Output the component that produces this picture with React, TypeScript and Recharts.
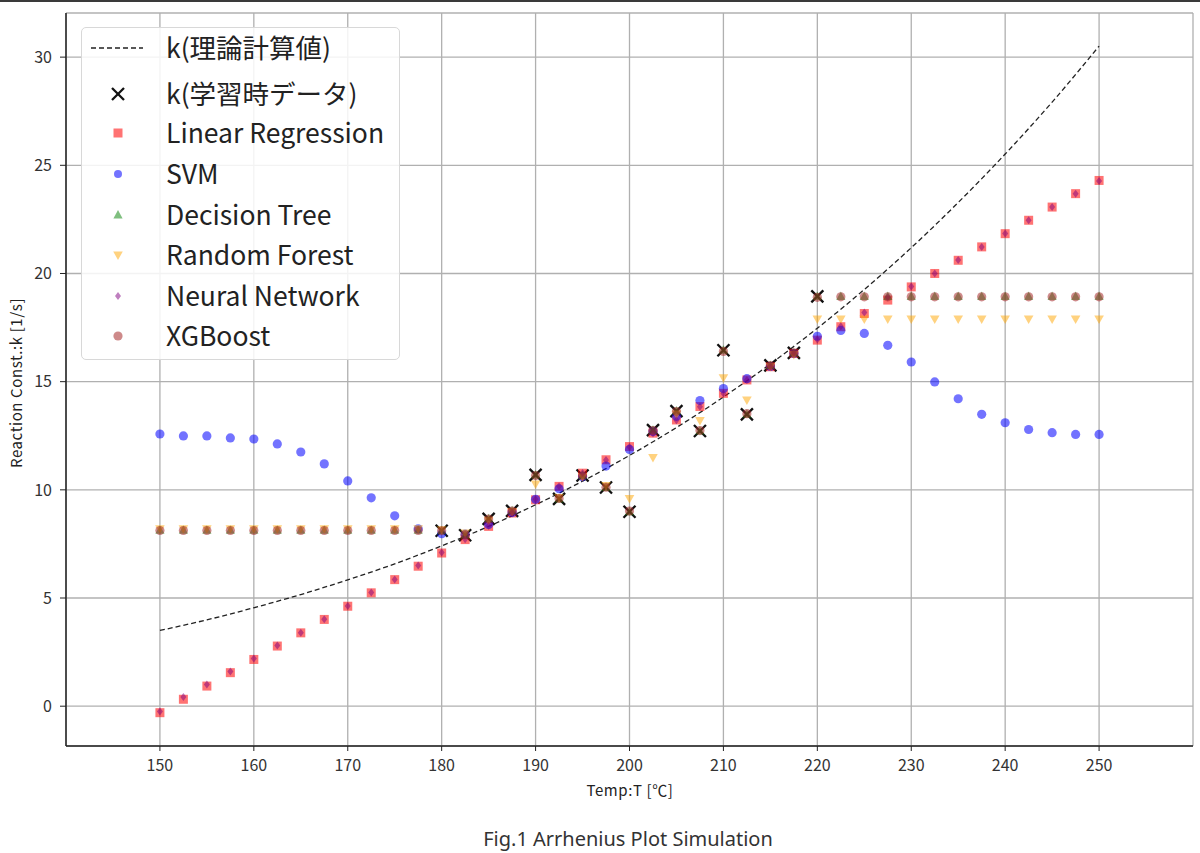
import React from 'react';
import { ComposedChart, Scatter, Line, XAxis, YAxis, CartesianGrid } from 'recharts';

// temperatures of the model predictions [°C]
const temps = [
  150, 152.5, 155, 157.5, 160, 162.5, 165, 167.5, 170, 172.5, 175, 177.5, 180, 182.5, 185, 187.5, 190, 192.5, 195, 197.5,
  200, 202.5, 205, 207.5, 210, 212.5, 215, 217.5, 220, 222.5, 225, 227.5, 230, 232.5, 235, 237.5, 240, 242.5, 245, 247.5, 250,
];

// theoretical curve, read every 5 °C
const theoryT = [150, 155, 160, 165, 170, 175, 180, 185, 190, 195, 200, 205, 210, 215, 220, 225, 230, 235, 240, 245, 250];
const theoryK = [3.5, 3.99, 4.55, 5.16, 5.84, 6.58, 7.41, 8.31, 9.31, 10.4, 11.59, 12.88, 14.29, 15.82, 17.47, 19.26, 21.19, 23.28, 25.52, 27.92, 30.51];

// training data
const trainT = [180, 182.5, 185, 187.5, 190, 192.5, 195, 197.5, 200, 202.5, 205, 207.5, 210, 212.5, 215, 217.5, 220];
const trainK = [8.11, 7.9, 8.66, 9.03, 10.69, 9.58, 10.66, 10.11, 8.99, 12.76, 13.64, 12.72, 16.45, 13.49, 15.75, 16.33, 18.94];

const lrK = [
  -0.3, 0.32, 0.93, 1.55, 2.16, 2.78, 3.39, 4.01, 4.62, 5.24, 5.85, 6.47, 7.08, 7.7, 8.31, 8.93, 9.54, 10.16, 10.77, 11.39,
  12.0, 12.62, 13.23, 13.85, 14.46, 15.08, 15.69, 16.31, 16.92, 17.54, 18.15, 18.77, 19.38, 20.0, 20.61, 21.23, 21.84, 22.46, 23.07, 23.69, 24.3,
];
const svmK = [
  12.58, 12.49, 12.49, 12.4, 12.35, 12.12, 11.75, 11.2, 10.41, 9.63, 8.8, 8.2, 7.97, 7.95, 8.4, 8.95, 9.56, 10.05, 10.6, 11.1,
  11.87, 12.7, 13.4, 14.13, 14.68, 15.14, 15.7, 16.3, 17.1, 17.37, 17.23, 16.68, 15.91, 14.99, 14.21, 13.49, 13.1, 12.79, 12.64, 12.56, 12.56,
];
const dtK = [
  8.13, 8.13, 8.13, 8.13, 8.13, 8.13, 8.13, 8.13, 8.13, 8.13, 8.13, 8.13, 8.11, 7.9, 8.66, 9.03, 10.69, 9.58, 10.66, 10.11,
  8.99, 12.76, 13.64, 12.72, 16.45, 13.49, 15.75, 16.33, 18.94, 18.94, 18.94, 18.94, 18.94, 18.94, 18.94, 18.94, 18.94, 18.94, 18.94, 18.94, 18.94,
];
const rfK = [
  8.2, 8.2, 8.2, 8.2, 8.2, 8.2, 8.2, 8.2, 8.2, 8.2, 8.2, 8.2, 8.15, 8.0, 8.6, 9.0, 10.27, 9.65, 10.6, 10.2,
  9.6, 11.5, 13.5, 13.2, 15.18, 14.15, 15.7, 16.25, 17.9, 17.9, 17.9, 17.9, 17.9, 17.9, 17.9, 17.9, 17.9, 17.9, 17.9, 17.9, 17.9,
];
const nnK = [
  -0.25, 0.43, 1.0, 1.6, 2.2, 2.8, 3.4, 4.02, 4.63, 5.25, 5.86, 6.5, 7.1, 7.72, 8.33, 8.95, 9.56, 10.17, 10.78, 11.38,
  11.98, 12.6, 13.22, 13.84, 14.45, 15.08, 15.7, 16.32, 16.95, 17.56, 18.2, 18.9, 19.4, 20.0, 20.62, 21.23, 21.85, 22.46, 23.07, 23.68, 24.28,
];
const xgbK = [
  8.12, 8.12, 8.12, 8.12, 8.12, 8.12, 8.12, 8.12, 8.12, 8.12, 8.12, 8.12, 8.11, 7.92, 8.65, 9.02, 10.66, 9.6, 10.64, 10.12,
  9.02, 12.74, 13.62, 12.74, 16.4, 13.52, 15.74, 16.32, 18.9, 18.92, 18.92, 18.92, 18.92, 18.92, 18.92, 18.92, 18.92, 18.92, 18.92, 18.92, 18.92,
];

const xTicks = [150, 160, 170, 180, 190, 200, 210, 220, 230, 240, 250];
const yTicks = [0, 5, 10, 15, 20, 25, 30];

const pts = (xs: number[], ys: number[]) => xs.map((x, i) => ({ x, y: ys[i] }));

const FONT = '"Noto Sans CJK JP", "Noto Sans", sans-serif';
const GRID = '#b0b0b0';

const COLORS = {
  lr: '#ff0000',
  svm: '#0000ff',
  dt: '#008000',
  rf: '#ffa500',
  nn: '#800080',
  xgb: '#a52a2a',
};

// marker drawers, used in the plot (cx, cy from scatter) and the legend
const mSquare = (cx: number, cy: number, c: string) => (
  <rect x={cx - 4.5} y={cy - 4.5} width={9} height={9} fill={c} fillOpacity={0.55} />
);
const mCircle = (cx: number, cy: number, c: string) => <circle cx={cx} cy={cy} r={4.6} fill={c} fillOpacity={0.55} />;
const mTriUp = (cx: number, cy: number, c: string) => (
  <polygon points={`${cx},${cy - 5} ${cx - 4.6},${cy + 3.5} ${cx + 4.6},${cy + 3.5}`} fill={c} fillOpacity={0.5} />
);
const mTriDown = (cx: number, cy: number, c: string) => (
  <polygon points={`${cx},${cy + 5} ${cx - 4.8},${cy - 3.5} ${cx + 4.8},${cy - 3.5}`} fill={c} fillOpacity={0.5} />
);
const mDiamond = (cx: number, cy: number, c: string) => (
  <polygon points={`${cx},${cy - 4} ${cx + 3},${cy} ${cx},${cy + 4} ${cx - 3},${cy}`} fill={c} fillOpacity={0.5} />
);
const mCross = (cx: number, cy: number) => (
  <g stroke="#111" strokeWidth={2.3}>
    <line x1={cx - 6} y1={cy - 6} x2={cx + 6} y2={cy + 6} />
    <line x1={cx - 6} y1={cy + 6} x2={cx + 6} y2={cy - 6} />
  </g>
);

const shapeOf = (draw: (cx: number, cy: number, c: string) => React.ReactElement, c: string) => (p: any) =>
  p.cx == null ? <g /> : draw(p.cx, p.cy, c);

const legendItems = [
  { label: 'k(理論計算値)', draw: null as any, c: '' },
  { label: 'k(学習時データ)', draw: (cx: number, cy: number) => mCross(cx, cy), c: '' },
  { label: 'Linear Regression', draw: mSquare, c: COLORS.lr },
  { label: 'SVM', draw: mCircle, c: COLORS.svm },
  { label: 'Decision Tree', draw: mTriUp, c: COLORS.dt },
  { label: 'Random Forest', draw: mTriDown, c: COLORS.rf },
  { label: 'Neural Network', draw: mDiamond, c: COLORS.nn },
  { label: 'XGBoost', draw: mCircle, c: COLORS.xgb },
];
const legendRowY = [20, 66, 105, 146, 187, 227, 268, 308];

function Legend() {
  return (
    <div
      style={{
        position: 'absolute',
        left: 81,
        top: 27,
        width: 319,
        height: 333,
        border: '1px solid #d8d8d8',
        borderRadius: 5,
        background: 'rgba(255,255,255,0.85)',
        boxSizing: 'border-box',
        fontFamily: FONT,
      }}
    >
      {legendItems.map((it, i) => (
        <div key={it.label} style={{ position: 'absolute', left: 0, top: legendRowY[i] - 20, height: 40, width: '100%' }}>
          <svg width={80} height={40} style={{ position: 'absolute', left: 0, top: 0 }}>
            {it.draw ? (
              i === 3 ? (
                <circle cx={36} cy={20} r={4} fill={it.c} fillOpacity={0.55} />
              ) : (
                it.draw(36, 20, it.c)
              )
            ) : (
              <line x1={9} y1={20} x2={61} y2={20} stroke="#222" strokeWidth={1.3} strokeDasharray="5 3" />
            )}
          </svg>
          <div
            style={{
              position: 'absolute',
              left: 84,
              top: -1,
              height: 40,
              lineHeight: '40px',
              fontSize: 26.5,
              color: '#222',
              whiteSpace: 'nowrap',
            }}
          >
            {it.label}
          </div>
        </div>
      ))}
    </div>
  );
}

export default function App() {
  const tick = { fill: '#333', fontSize: 16, fontFamily: FONT };
  return (
    <div style={{ position: 'absolute', left: 0, top: 0, width: 1200, height: 853, background: '#fff', overflow: 'hidden' }}>
      <div style={{ position: 'absolute', left: 0, top: 0, width: 1200, height: 2, background: '#3a3a3a' }} />
      <ComposedChart width={1200} height={853} margin={{ top: 13, right: 7, left: 0, bottom: 0 }}>
        <CartesianGrid stroke={GRID} strokeWidth={1.3} />
        <XAxis
          dataKey="x"
          type="number"
          domain={[140, 260]}
          ticks={xTicks}
          allowDataOverflow
          height={107}
          tick={tick}
          tickSize={5}
          tickMargin={9}
          axisLine={{ stroke: '#222', strokeWidth: 1.5 }}
          tickLine={{ stroke: '#222' }}
        />
        <XAxis xAxisId="top" orientation="top" type="number" domain={[140, 260]} height={0} tick={false} tickLine={false} axisLine={{ stroke: '#222', strokeWidth: 1.5 }} />
        <YAxis
          dataKey="y"
          type="number"
          domain={[-1.84, 32.04]}
          ticks={yTicks}
          allowDataOverflow
          width={66}
          tick={tick}
          tickSize={6}
          tickMargin={8}
          axisLine={{ stroke: '#222', strokeWidth: 1.5 }}
          tickLine={{ stroke: '#222' }}
        />
        <YAxis yAxisId="right" orientation="right" type="number" domain={[0, 1]} width={0} tick={false} tickLine={false} axisLine={{ stroke: '#222', strokeWidth: 1.5 }} />

        <Line
          data={pts(theoryT, theoryK)}
          dataKey="y"
          type="monotone"
          stroke="#222"
          strokeWidth={1.3}
          strokeDasharray="5 3"
          dot={false}
          activeDot={false}
          isAnimationActive={false}
        />
        <Scatter data={pts(trainT, trainK)} dataKey="y" shape={shapeOf((cx, cy) => mCross(cx, cy), '')} isAnimationActive={false} />
        <Scatter data={pts(temps, lrK)} dataKey="y" shape={shapeOf(mSquare, COLORS.lr)} isAnimationActive={false} />
        <Scatter data={pts(temps, svmK)} dataKey="y" shape={shapeOf(mCircle, COLORS.svm)} isAnimationActive={false} />
        <Scatter data={pts(temps, dtK)} dataKey="y" shape={shapeOf(mTriUp, COLORS.dt)} isAnimationActive={false} />
        <Scatter data={pts(temps, rfK)} dataKey="y" shape={shapeOf(mTriDown, COLORS.rf)} isAnimationActive={false} />
        <Scatter data={pts(temps, nnK)} dataKey="y" shape={shapeOf(mDiamond, COLORS.nn)} isAnimationActive={false} />
        <Scatter data={pts(temps, xgbK)} dataKey="y" shape={shapeOf(mCircle, COLORS.xgb)} isAnimationActive={false} />
      </ComposedChart>

      <Legend />

      <div
        style={{
          position: 'absolute',
          left: 15,
          top: 383,
          transform: 'translate(-50%, -50%) rotate(-90deg)',
          fontFamily: FONT,
          fontSize: 15,
          letterSpacing: 0.6,
          color: '#222',
          whiteSpace: 'nowrap',
        }}
      >
        Reaction Const.:k [1/s]
      </div>
      <div
        style={{
          position: 'absolute',
          left: 630,
          top: 789,
          transform: 'translate(-50%, -50%)',
          fontFamily: FONT,
          fontSize: 15,
          letterSpacing: 0.6,
          color: '#222',
          whiteSpace: 'nowrap',
        }}
      >
        Temp:T [℃]
      </div>
      <div
        style={{
          position: 'absolute',
          left: 628,
          top: 838,
          transform: 'translate(-50%, -50%)',
          fontFamily: '"Noto Sans", sans-serif',
          fontSize: 20,
          color: '#333',
          whiteSpace: 'nowrap',
        }}
      >
        Fig.1 Arrhenius Plot Simulation
      </div>
    </div>
  );
}
